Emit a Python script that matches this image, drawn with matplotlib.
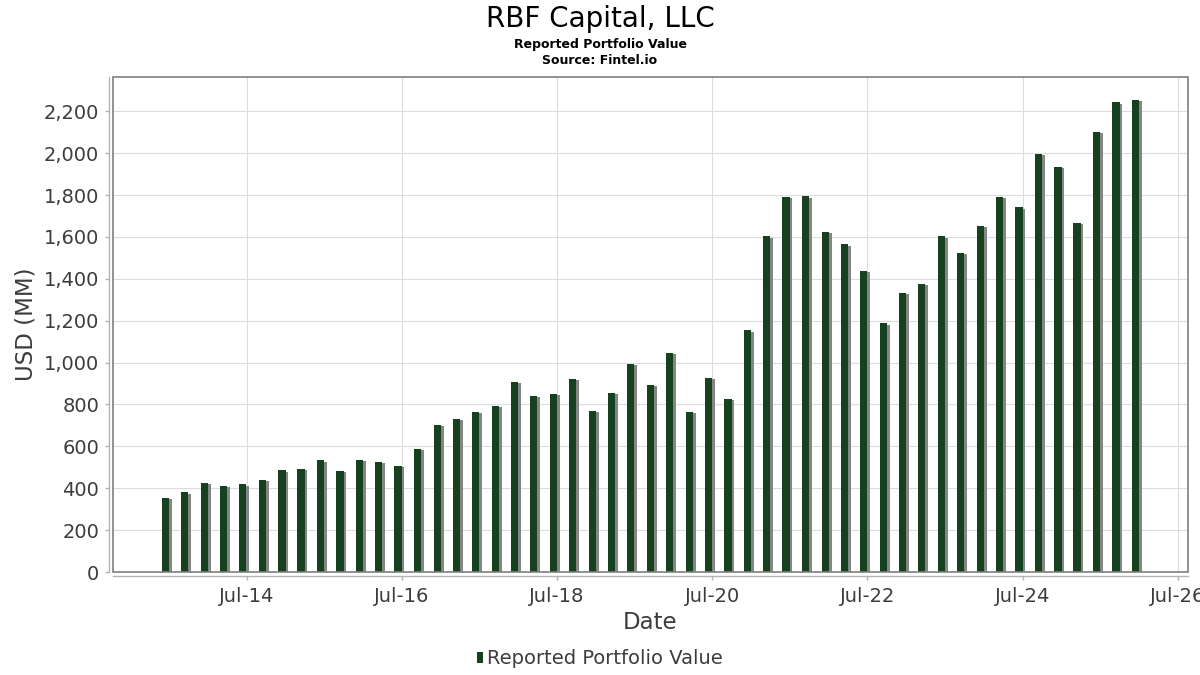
import matplotlib
matplotlib.use("Agg")
import matplotlib.pyplot as plt
import matplotlib.dates as mdates
import matplotlib.patheffects as pe
from matplotlib.patches import Patch, Rectangle
from matplotlib.ticker import FuncFormatter, FixedLocator
import pandas as pd

# ---- data ----
dates = [
    "2013-06-30", "2013-09-30", "2013-12-31", "2014-03-31", "2014-06-30", "2014-09-30",
    "2014-12-31", "2015-03-31", "2015-06-30", "2015-09-30", "2015-12-31", "2016-03-31",
    "2016-06-30", "2016-09-30", "2016-12-31", "2017-03-31", "2017-06-30", "2017-09-30",
    "2017-12-31", "2018-03-31", "2018-06-30", "2018-09-30", "2018-12-31", "2019-03-31",
    "2019-06-30", "2019-09-30", "2019-12-31", "2020-03-31", "2020-06-30", "2020-09-30",
    "2020-12-31", "2021-03-31", "2021-06-30", "2021-09-30", "2021-12-31", "2022-03-31",
    "2022-06-30", "2022-09-30", "2022-12-31", "2023-03-31", "2023-06-30", "2023-09-30",
    "2023-12-31", "2024-03-31", "2024-06-30", "2024-09-30", "2024-12-31", "2025-03-31",
    "2025-06-30", "2025-09-30", "2025-12-31",
]
values = [
    355, 380, 426, 412, 418, 440, 485, 494, 533, 483, 536, 526,
    507, 587, 703, 731, 766, 794, 908, 841, 852, 922, 770, 856,
    994, 894, 1047, 766, 927, 827, 1155, 1603, 1791, 1794, 1624, 1565,
    1438, 1188, 1333, 1377, 1603, 1524, 1653, 1791, 1742, 1996, 1934, 1667,
    2101, 2243, 2254,
]
series_name = "Reported Portfolio Value"
title = "RBF Capital, LLC"
subtitle = "Reported Portfolio Value"
source = "Source: Fintel.io"
xtick_dates = ["2014-07-01", "2016-07-01", "2018-07-01", "2020-07-01",
               "2022-07-01", "2024-07-01", "2026-07-01"]
yticks = [0, 200, 400, 600, 800, 1000, 1200, 1400, 1600, 1800, 2000, 2200]

# ---- style ----
bar_color = "#15411f"
shadow_color = "#858585"
text_gray = "#3c3c3c"
grid_color = "#dcdcdc"

plt.rcParams['font.family'] = ['DejaVu Sans']

W, H = 1200, 675
fig = plt.figure(figsize=(12, 6.75), dpi=100)
ax = fig.add_axes([113 / W, 1 - 572 / H, (1188 - 113) / W, (572 - 77) / H])

x = pd.to_datetime(dates)
bars = ax.bar(x, values, width=-34, align='edge', color=bar_color, zorder=3)
for b in bars:
    b.set_path_effects([pe.SimplePatchShadow(offset=(2, -1), shadow_rgbFace=shadow_color, alpha=1.0),
                        pe.Normal()])

ax.set_xlim(pd.Timestamp("2012-10-10"), pd.Timestamp("2026-08-18"))
ax.set_ylim(0, 2364)

ax.xaxis.set_major_locator(FixedLocator(mdates.date2num(pd.to_datetime(xtick_dates))))
ax.xaxis.set_major_formatter(mdates.DateFormatter("%b-%y"))
ax.yaxis.set_major_locator(FixedLocator(yticks))
ax.yaxis.set_major_formatter(FuncFormatter(lambda v, p: f"{int(v):,}"))

ax.grid(True, color=grid_color, linewidth=0.8, zorder=0)
ax.set_axisbelow(True)

for s in ['top', 'right']:
    ax.spines[s].set_visible(False)
for s in ['left', 'bottom']:
    ax.spines[s].set_position(('outward', 3))
    ax.spines[s].set_color("#b4b4b4")
    ax.spines[s].set_linewidth(1.0)

# inner frame
ax.add_patch(Rectangle((0, 0), 1, 1, transform=ax.transAxes, fill=False,
                       edgecolor="#7f7f7f", linewidth=1.2, clip_on=False, zorder=5))

ax.tick_params(axis='both', colors="#b4b4b4", length=3, width=1.0, labelsize=14,
               labelcolor=text_gray)
ax.tick_params(axis='y', pad=4)
ax.tick_params(axis='x', pad=5)

# titles
fig.text(0.5, 1 - 26.7 / H, title, ha='center', va='baseline', fontsize=20, color='black')
fig.text(0.5, 1 - 47.7 / H, subtitle, ha='center', va='baseline', fontsize=9,
         fontweight='bold', color='black')
fig.text(0.5, 1 - 64.3 / H, source, ha='center', va='baseline', fontsize=9,
         fontweight='bold', color='black')

# axis labels
fig.text(26 / W, 1 - 324 / H, "USD (MM)", rotation=90, ha='center', va='center',
         fontsize=16.5, color=text_gray)
fig.text(650 / W, 1 - 629 / H, "Date", ha='center', va='baseline', fontsize=16.5,
         color=text_gray)

# legend
fig.legend(handles=[Patch(facecolor=bar_color, edgecolor='none', label=series_name)],
           loc='center', bbox_to_anchor=(0.5, 1 - 659 / H), frameon=False,
           fontsize=14, handlelength=0.3, handleheight=0.5, handletextpad=0.25,
           labelcolor=text_gray)

fig.savefig("out.png", dpi=100)
